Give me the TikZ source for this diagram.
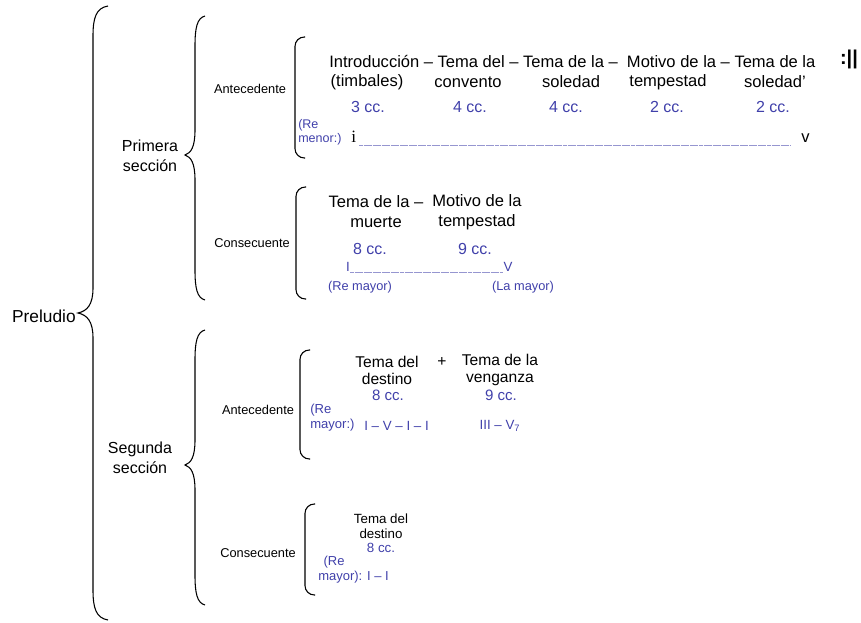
\documentclass[tikz,border=0pt]{standalone}
\usepackage{fontspec}
\setmainfont{Liberation Sans}
\newfontfamily\serifa{Liberation Serif}
\usetikzlibrary{positioning}
\definecolor{azul}{RGB}{64,64,170}
\newcommand{\tam}[2]{\fontsize{#1}{#2}\selectfont}
\newcommand{\llave}[5]{\draw[trazo] (#1+#5,#2) .. controls (#1+0.2*#5,#2+2) and (#1,#2+12) .. (#1,#2+30)
    -- (#1,#3-25) .. controls (#1,#3-8) and (#1-0.4*#5,#3-2) .. (#1-#5,#3)
    .. controls (#1-0.4*#5,#3+2) and (#1,#3+8) .. (#1,#3+25)
    -- (#1,#4-30) .. controls (#1,#4-12) and (#1+0.2*#5,#4-2) .. (#1+#5,#4);}
\newcommand{\paren}[3]{\draw[trazo,rounded corners=7pt] (#1+10,#2) -- (#1,#2) -- (#1,#3) -- (#1+10,#3);}

\begin{document}
\begin{tikzpicture}[x=0.75pt,y=-0.75pt,
  trazo/.style={line width=0.8pt},
  txt/.style={inner sep=0pt,align=center},
  azulado/.style={txt,text=azul},
  subrayado/.style={azul!55,line width=0.5pt,dash pattern=on 3pt off 0.4pt}]
\useasboundingbox (0,0) rectangle (861,623);
% llaves
\llave{93}{6}{313}{620}{15}
\llave{195}{16}{155}{300}{10}
\llave{195}{330}{465}{605}{10}
\paren{295}{37}{158}
\paren{296}{187}{299}
\paren{300}{350}{459}
\paren{305}{504}{595}

\node[txt,anchor=east,font=\tam{13}{14}] (preludio) at (76,316) {Preludio};
\node[txt,font=\tam{12}{15}] (primera) at (150,156) {Primera\\sección};
\node[txt,font=\tam{12}{15}] (segunda) at (140,458) {Segunda\\sección};
\node[txt,font=\tam{9.6}{11}] (ant1) at (250,89) {Antecedente};
\node[txt,font=\tam{9.6}{11}] (con1) at (252,243) {Consecuente};
\node[txt,font=\tam{9.6}{11}] (ant2) at (258,410) {Antecedente};
\node[txt,font=\tam{9.6}{11}] (con2) at (258,553) {Consecuente};

% primera seccion, antecedente
\node[txt,anchor=west,font=\tam{12.4}{15}] (temas1) at (329,61) {Introducción – Tema del – Tema de la – \ Motivo de la – Tema de la};
\node[txt,font=\bfseries\tam{15}{15}] (repeticion) at (849,59) {:||};
\foreach \x/\t/\c/\n [count=\i] in {367/{(timbales)}/368/3, 468/convento/470/4, 571/soledad/566/4, 668/tempestad/667/2, 775/soledad’/773/2}{
  \node[txt,font=\tam{12.4}{15}] (sub\i) at (\x,82) {\t};
  \node[azulado,font=\tam{12}{14}] (cc\i) at (\c,107) {\n\ cc.};
}
\node[azulado,font=\tam{9.4}{10.5},align=left,anchor=west] (tono1) at (298,132) {(Re\\menor:)};
\node[txt,font=\serifa\tam{13}{14},anchor=base west] (grado1) at (351,143) {i};
\node[txt,font=\tam{12.4}{14},anchor=base west] (grado5) at (801,143) {v};
\draw[subrayado,shorten <=2pt,shorten >=8pt] ([yshift=-2pt]grado1.base east) -- ([yshift=-2pt]grado1.base east -| grado5.west);

% primera seccion, consecuente
\node[txt,font=\tam{12.4}{15}] (muerte) at (376,212) {Tema de la –\\muerte};
\node[txt,font=\tam{12.4}{15}] (tempestad) at (477,212) {Motivo de la\\tempestad};
\node[azulado,font=\tam{12}{14}] (cc6) at (370,249) {8 cc.};
\node[azulado,font=\tam{12}{14}] (cc7) at (475,249) {9 cc.};
\node[azulado,font=\tam{10}{12},anchor=base] (gradoI) at (348,272) {I};
\node[azulado,font=\tam{10}{12},anchor=base] (gradoV) at (508,272) {V};
\draw[subrayado] (gradoI.base east) -- (gradoI.base east -| gradoV.west);
\node[azulado,font=\tam{9.6}{11}] (remayor) at (360,287) {(Re mayor)};
\node[azulado,font=\tam{9.6}{11}] (lamayor) at (523,287) {(La mayor)};

% segunda seccion, antecedente
\node[txt,font=\tam{11.7}{12.75}] (destino) at (387,370) {Tema del\\destino};
\node[txt,font=\tam{11.7}{12.75}] (mas) at (442,362) {+};
\node[txt,font=\tam{11.7}{12.75}] (venganza) at (500,370) {Tema de la\\venganza};
\node[azulado,font=\tam{11.3}{13}] (cc8) at (388,395) {8 cc.};
\node[azulado,font=\tam{11.3}{13}] (cc9) at (501,395) {9 cc.};
\node[azulado,font=\tam{9.8}{11.25},align=left,anchor=west] (tono2) at (310,418) {(Re\\mayor:)};
\node[azulado,font=\tam{10}{11},anchor=west] (grados2) at (364,426) {I – V – I – I};
\node[azulado,font=\tam{10}{11}] (grados3) at (500,426) {III – V\textsubscript{7}};

% segunda seccion, consecuente
\node[txt,font=\tam{10}{11.25}] (destino2) at (381,526) {Tema del\\destino};
\node[azulado,font=\tam{10}{12}] (cc10) at (381,548) {8 cc.};
\node[azulado,font=\tam{9.75}{11.25},align=left,anchor=west] (tono3) at (318,570) {\hspace*{4pt}(Re\\mayor): I – I};
\end{tikzpicture}
\end{document}
